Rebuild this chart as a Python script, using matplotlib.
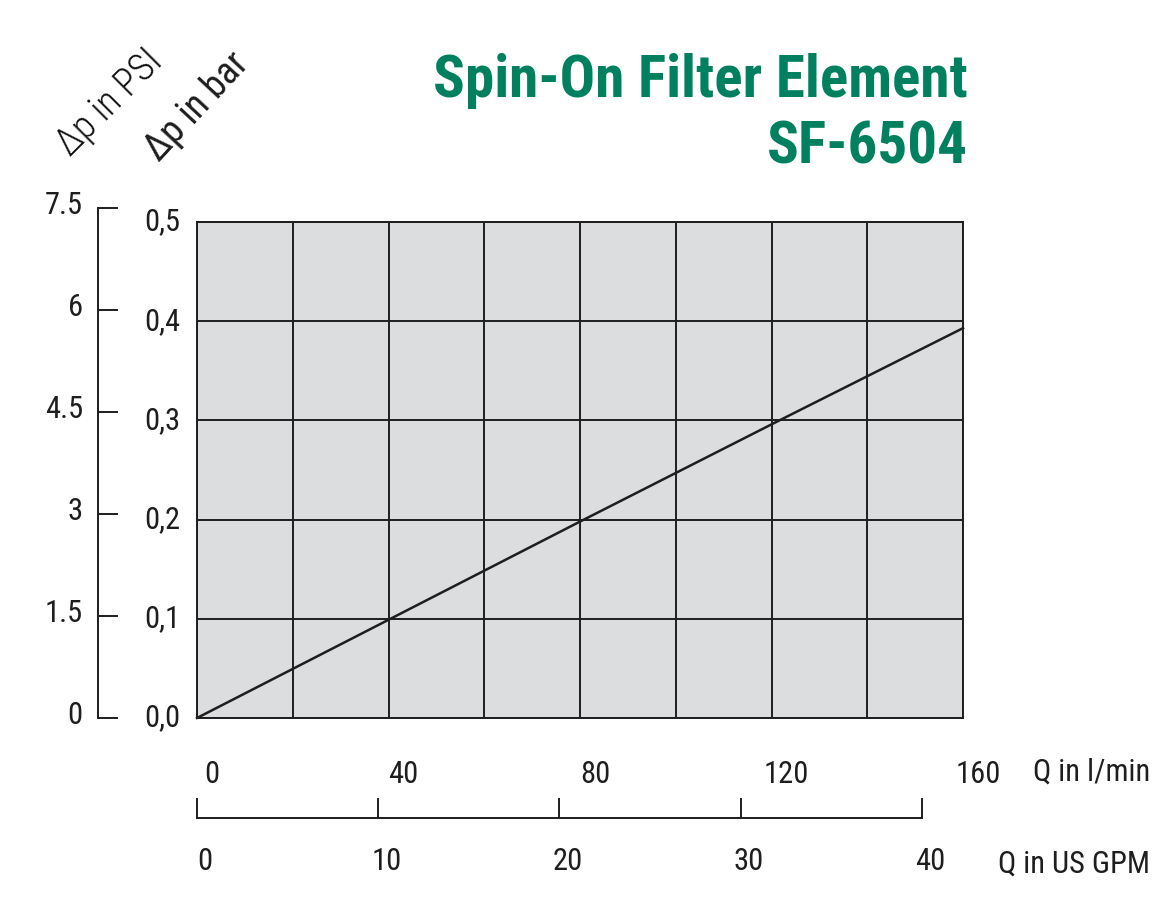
import matplotlib
matplotlib.use('Agg')
import matplotlib.pyplot as plt
from matplotlib import font_manager
from matplotlib.transforms import ScaledTranslation

# data
flow_lpm = [0, 40, 80, 120, 160]
dp_bar = [0.0, 0.099, 0.198, 0.296, 0.393]

lpm_ticks = [0, 40, 80, 120, 160]
lpm_grid = [20, 60, 100, 140]
bar_ticks = [0.0, 0.1, 0.2, 0.3, 0.4, 0.5]
bar_labels = ['0,0', '0,1', '0,2', '0,3', '0,4', '0,5']
psi_ticks = [0, 1.5, 3, 4.5, 6, 7.5]
psi_labels = ['0', '1.5', '3', '4.5', '6', '7.5']
gpm_ticks = [0, 10, 20, 30, 40]
LPM_PER_GPM = 3.7854

title1 = 'Spin-On Filter Element'
title2 = 'SF-6504'
green = '#00805e'
ink = '#1e1e1e'

names = {f.name for f in font_manager.fontManager.ttflist}
font = 'Roboto'
for cand in ['Roboto Condensed', 'Liberation Sans Narrow']:
    if cand in names:
        font = cand
        break
plt.rcParams['font.family'] = [font, 'DejaVu Sans']

W, H = 1173, 909
def fx(px):
    return px / W
def fy(py):
    return 1 - py / H

fig = plt.figure(figsize=(W / 100, H / 100), dpi=100)

def shift(labels, dx, dy):
    off = ScaledTranslation(dx / 100, -dy / 100, fig.dpi_scale_trans)
    for lab in labels:
        lab.set_transform(lab.get_transform() + off)

# main chart
ax = fig.add_axes([fx(197), fy(718), (963 - 197) / W, (718 - 222) / H])
ax.set_facecolor('#dcdddf')
ax.set_xlim(0, 160)
ax.set_ylim(0, 0.5)
ax.set_xticks(lpm_ticks)
ax.set_xticks(lpm_grid, minor=True)
ax.set_yticks(bar_ticks)
ax.set_yticklabels(bar_labels)
ax.grid(which='both', color=ink, lw=1.4)
ax.tick_params(which='both', length=0, labelsize=22, colors=ink)
ax.tick_params(axis='y', pad=12)
ax.tick_params(axis='x', pad=30)
for s in ax.spines.values():
    s.set_linewidth(1.4)
    s.set_color(ink)
ax.plot(flow_lpm, dp_bar, color=ink, lw=1.8, clip_on=False)
shift(ax.get_xticklabels(), 15, 0)
shift(ax.get_yticklabels(), 0, -3)

# psi scale
axp = fig.add_axes([fx(98), fy(718), 0.05, (718 - 208) / H])
axp.patch.set_visible(False)
axp.set_ylim(0, 7.5)
axp.set_yticks(psi_ticks)
axp.set_yticklabels(psi_labels)
axp.set_xticks([])
for k in ['top', 'right', 'bottom']:
    axp.spines[k].set_visible(False)
axp.spines['left'].set_linewidth(1.4)
axp.spines['left'].set_color(ink)
axp.tick_params(axis='y', direction='in', length=14.4, width=1.4, pad=11,
                labelsize=22, colors=ink)
shift(axp.get_yticklabels(), 0, -5)

# US GPM scale
axg = fig.add_axes([fx(197), fy(818), (963 - 197) / W, 0.05])
axg.patch.set_visible(False)
axg.set_xlim(0, 160 / LPM_PER_GPM)
axg.set_xticks(gpm_ticks)
axg.set_yticks([])
for k in ['top', 'right', 'left']:
    axg.spines[k].set_visible(False)
axg.spines['bottom'].set_bounds(0, 40)
axg.spines['bottom'].set_linewidth(1.4)
axg.spines['bottom'].set_color(ink)
axg.tick_params(axis='x', direction='in', length=14.4, width=1.4, pad=21,
                labelsize=22, colors=ink)
shift(axg.get_xticklabels(), 8, 0)

# axis names
fig.text(fx(1033), fy(772), 'Q in l/min', ha='left', va='center', fontsize=22, color=ink)
fig.text(fx(998), fy(864), 'Q in US GPM', ha='left', va='center', fontsize=22, color=ink)
fig.text(fx(70), fy(157), 'Δp in PSI', rotation=45, rotation_mode='anchor',
         ha='left', va='baseline', fontsize=27, fontweight='light', color='#111111')
fig.text(fx(159), fy(163), 'Δp in bar', rotation=47, rotation_mode='anchor',
         ha='left', va='baseline', fontsize=27, fontweight='normal', color=ink)

# title
t1 = fig.text(fx(968), fy(97), title1, ha='right', va='baseline', fontsize=44,
              fontweight='bold', color=green)
t2 = fig.text(fx(968), fy(163), title2, ha='right', va='baseline', fontsize=44,
              fontweight='bold', color=green)
fig.canvas.draw()
w = t1.get_window_extent().width
if w > 535:
    size = 44 * 535 / w
    t1.set_fontsize(size)
    t2.set_fontsize(size)

fig.savefig('out.png', dpi=100)
